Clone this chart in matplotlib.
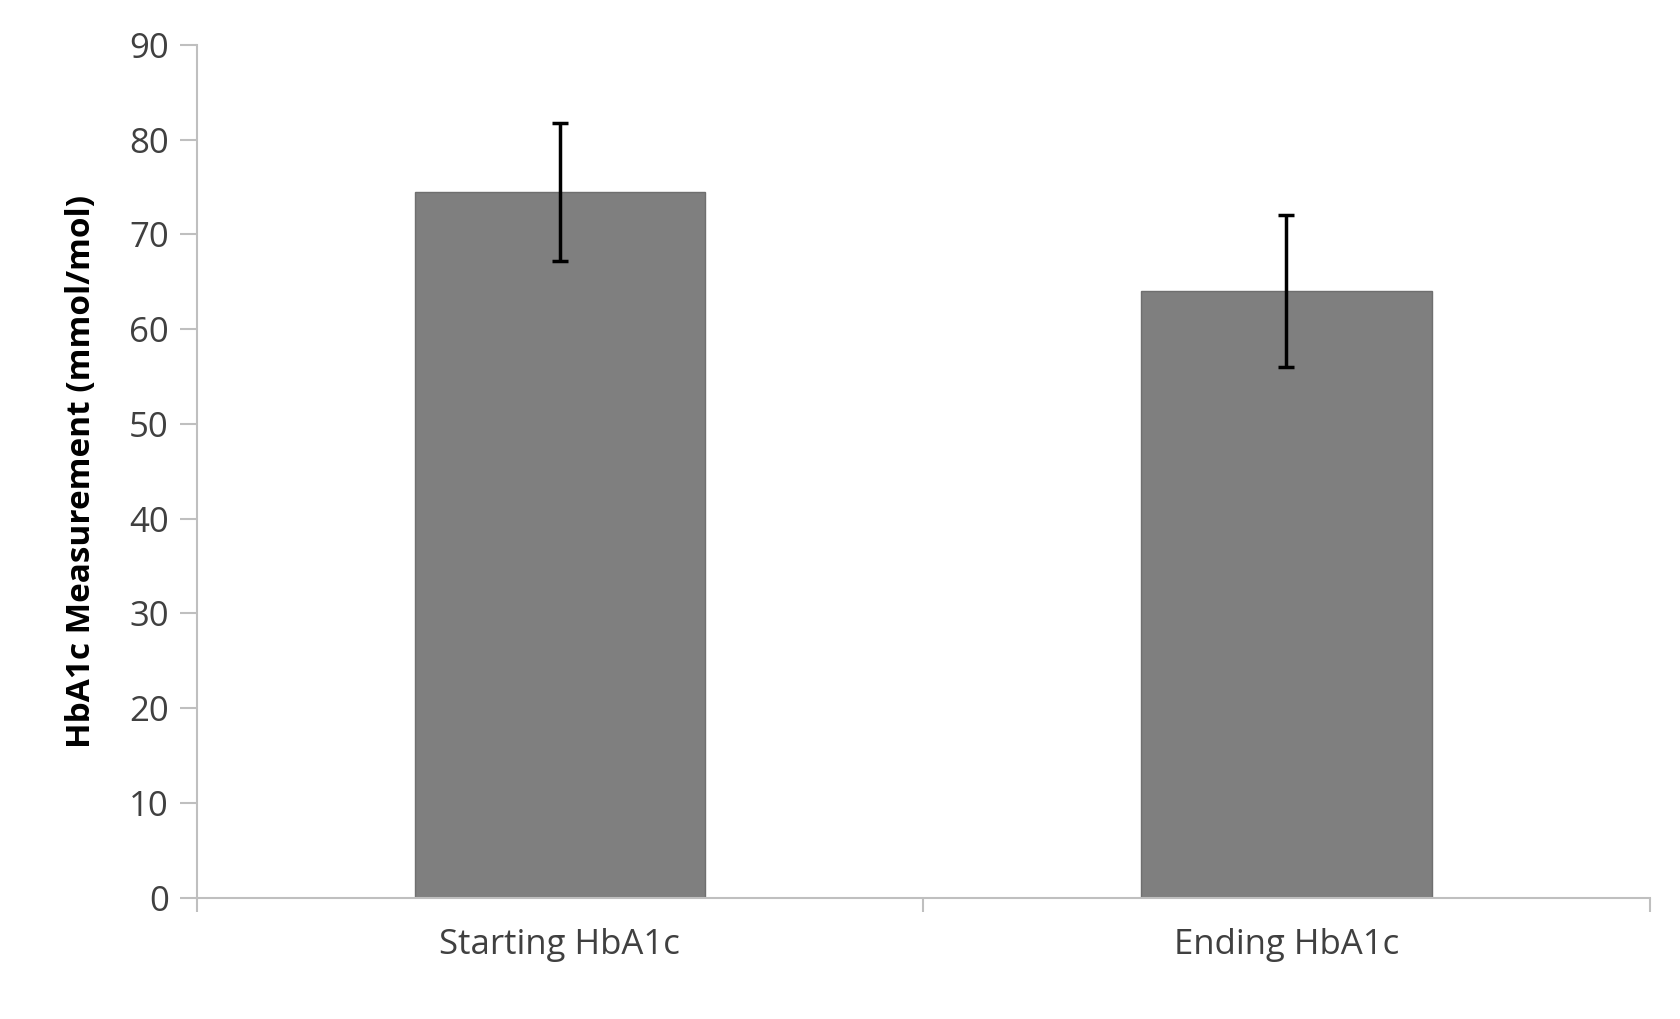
import matplotlib
matplotlib.use("Agg")
import matplotlib.pyplot as plt

categories = ["Starting HbA1c", "Ending HbA1c"]
values = [74.5, 64.0]
errors = [7.3, 8.0]
yticks = list(range(0, 91, 10))

plt.rcParams['font.family'] = ['Open Sans', 'DejaVu Sans']

fig = plt.figure(figsize=(16.8, 10.19), dpi=100)
ax = fig.add_axes([0.117, 0.119, 0.865, 0.837])
x = range(len(categories))
ax.bar(x, values, width=0.4, color='#7f7f7f', edgecolor='#6f6f6f', linewidth=1)
ax.errorbar(x, values, yerr=errors, fmt='none', ecolor='black', elinewidth=2.5,
            capsize=6, capthick=2.5)

ax.set_xlim(-0.5, 1.5)
ax.set_ylim(0, 90)
ax.set_yticks(yticks)
ax.set_xticks([0, 1])
ax.set_xticklabels(categories)
ax.set_xticks([-0.5, 0.5, 1.5], minor=True)
ax.tick_params(axis='x', which='major', length=0, pad=22, labelsize=25, labelcolor='#404040')
ax.tick_params(axis='x', which='minor', length=10, color='#bfbfbf', width=1.5)
ax.tick_params(axis='y', length=12, color='#bfbfbf', width=1.5, pad=8,
               labelsize=25, labelcolor='#404040')
for s in ['top', 'right']:
    ax.spines[s].set_visible(False)
for s in ['left', 'bottom']:
    ax.spines[s].set_color('#bfbfbf')
    ax.spines[s].set_linewidth(1.5)
ax.set_ylabel('HbA1c Measurement (mmol/mol)', fontsize=24, fontweight='bold', labelpad=22)

fig.savefig('out.png', dpi=100)
